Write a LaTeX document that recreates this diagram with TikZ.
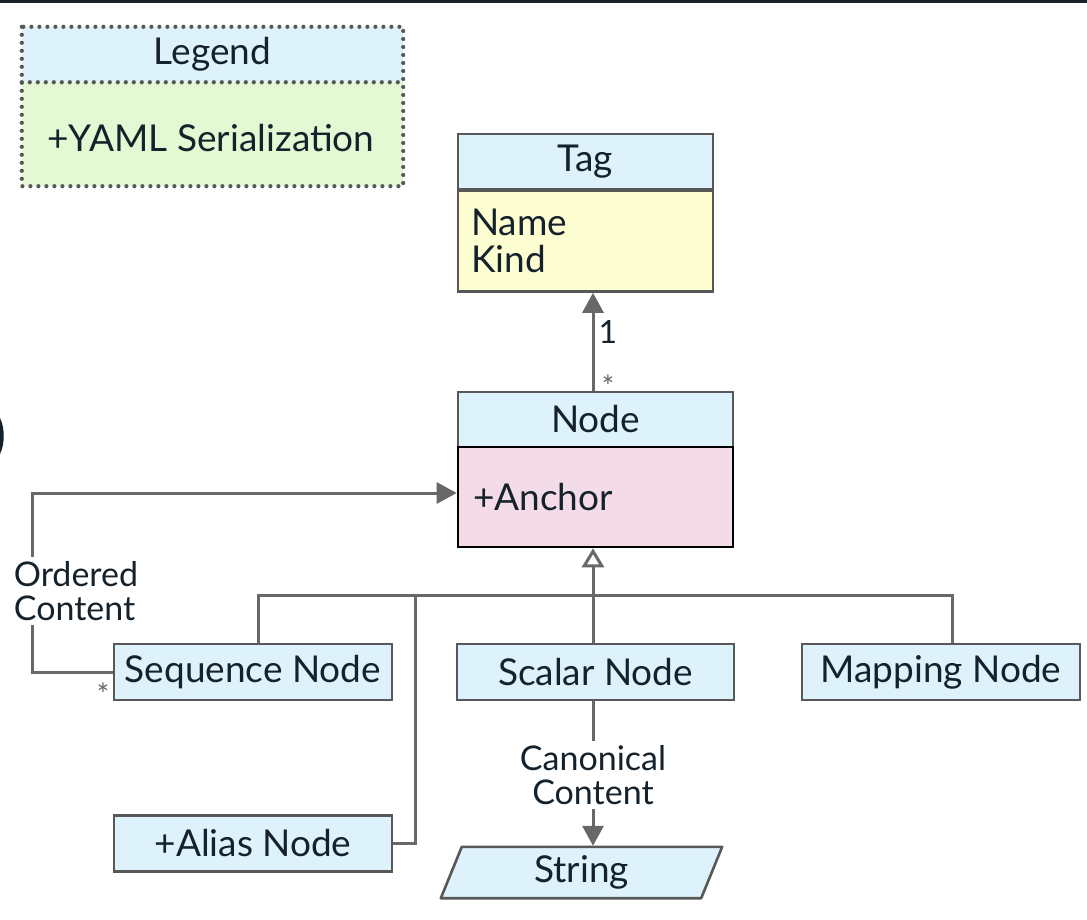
\documentclass[tikz,border=0pt]{standalone}
\usepackage{fontspec}
\setmainfont{Lato}
\usetikzlibrary{arrows.meta}
\definecolor{hdr}{HTML}{DDF2FB}
\definecolor{grn}{HTML}{E4F8D4}
\definecolor{ylw}{HTML}{FDFDD2}
\definecolor{pnk}{HTML}{F3DCE7}
\definecolor{brd}{HTML}{585858}
\definecolor{ln}{HTML}{686868}
\definecolor{txt}{HTML}{15222B}
\pgfdeclarelayer{back}
\pgfsetlayers{back,main}
\begin{document}
\begin{tikzpicture}[x=1pt,y=-1pt,
  big/.style={font=\fontsize{37}{40}\selectfont, text=txt},
  mid/.style={font=\fontsize{34}{37}\selectfont, text=txt},
  box/.style={big, draw=brd, line width=2.6pt, fill=hdr, inner sep=0pt, minimum height=56pt},
  dots/.style={draw=brd, line width=4.2pt, line cap=round, dash pattern=on 0pt off 8pt},
  conn/.style={draw=ln, line width=3pt},
  arr/.style={-{Triangle[length=20pt,width=21pt]}},
  inh/.style={-{Triangle[open,length=19pt,width=22pt,fill=white]}},
  lbl/.style={mid, fill=white, inner sep=1pt, align=center},
  small/.style={font=\fontsize{32}{34}\selectfont, text=txt},
  tiny/.style={font=\fontsize{30}{32}\selectfont, text=ln}
]
\useasboundingbox (0,0) rectangle (1087,920);
\begin{pgfonlayer}{back}
\fill[white] (0,0) rectangle (1087,920);
\end{pgfonlayer}
% crop artifacts
\fill[txt] (0,0) rectangle (1087,3);
\fill[txt] (0,418) .. controls (5,428) and (5,444) .. (0,454) -- cycle;

% Legend
\node[big, fill=hdr, minimum width=381pt, minimum height=55pt, inner sep=0pt] (legH) at (212.5,54.5) {Legend};
\node[big, fill=grn, minimum width=381pt, minimum height=104pt, inner sep=0pt] (legB) at (212.5,134) {};
\node[big, anchor=west] (legT) at (44,138) {+YAML Serialization};
\draw[dots] (legH.north west) rectangle (legB.south east);
\draw[dots] (legH.south west) -- (legH.south east);

% Tag
\node[box, minimum width=255pt, minimum height=55pt] (tagH) at (585.5,161.5) {Tag};
\node[box, fill=ylw, minimum width=255pt, minimum height=101pt, text width=229pt, align=left] (tagB) at (585.5,241) {Name\\[-3pt]Kind};

% Node
\node[box, minimum width=275pt, minimum height=55pt] (nodeH) at (595.5,419.5) {Node};
\node[box, draw=black, fill=pnk, minimum width=275pt, minimum height=100pt, text width=245pt, align=left] (nodeB) at (595.5,497) {+Anchor};

% subclasses
\node[box, minimum width=278pt] (seq) at (253,672) {Sequence Node};
\node[box, minimum width=277pt] (sca) at (595.5,672) {Scalar Node};
\node[box, minimum width=278pt] (map) at (941,672) {Mapping Node};
\node[box, minimum width=278pt] (ali) at (253,843.5) {+Alias Node};
\node[big, minimum width=260pt, minimum height=51pt, inner sep=0pt] (str) at (581.5,872.5) {String};
\begin{pgfonlayer}{back}
\draw[draw=brd, line width=2.6pt, fill=hdr, line join=round]
  ([xshift=10.5pt]str.north west) -- ([xshift=10.5pt]str.north east)
  -- ([xshift=-10.5pt]str.south east) -- ([xshift=-10.5pt]str.south west) -- cycle;
\end{pgfonlayer}

% association Node -> Tag
\draw[conn, arr] (nodeH.north -| 593,0) -- (tagB.south -| 593,0);
\node[small] (one) at (608,332) {1};
\node[tiny] (st1) at (608,386) {*};

% inheritance
\coordinate (bus) at (593,595);
\draw[conn, inh] (sca.north -| bus) -- (nodeB.south -| bus);
\draw[conn] ([xshift=5pt]seq.north) -- ([xshift=5pt]seq.north |- bus) -- ([xshift=11pt]map.north |- bus) -- ([xshift=11pt]map.north);
\coordinate (bus2) at (415,595);
\draw[conn] (ali.east) -| (bus2);

% ordered content
\coordinate (oc) at (32,493);
\draw[conn, arr] (seq.west) -| (oc) -- (nodeB.west |- oc);
\node[lbl, align=left, inner ysep=4pt] (ocl) at (76,591) {Ordered\\[-3pt]Content};
\node[tiny] (st2) at (103,694) {*};

% canonical content
\draw[conn, arr] (sca.south -| bus) -- ([yshift=1pt]str.north -| bus);
\node[lbl, inner ysep=4pt] (ccl) at (593,775) {Canonical\\[-3pt]Content};
\end{tikzpicture}
\end{document}
